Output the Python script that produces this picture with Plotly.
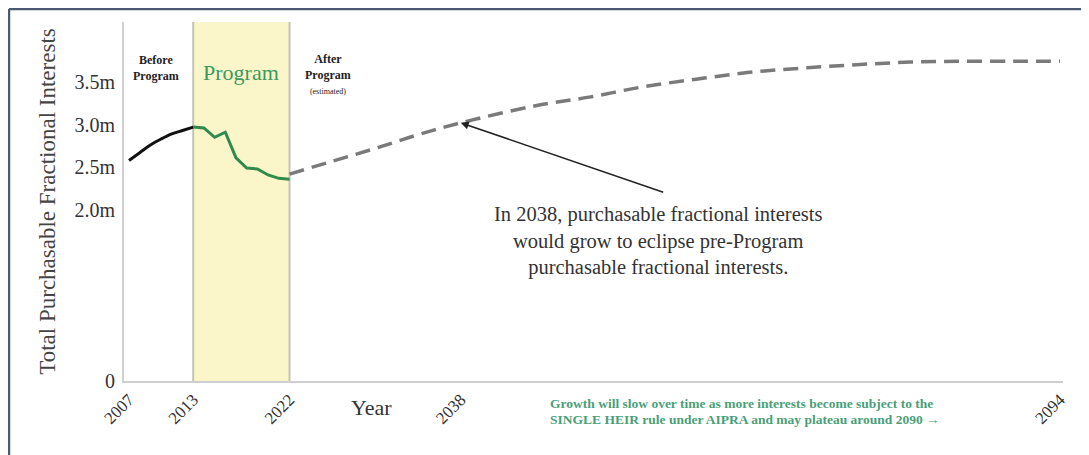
import plotly.graph_objects as go

# ---- data ----
before_years = [2007, 2008, 2009, 2010, 2011, 2012, 2013]
before_vals = [2.58, 2.67, 2.76, 2.83, 2.89, 2.93, 2.97]

program_years = [2013, 2014, 2015, 2016, 2017, 2018, 2019, 2020, 2021, 2022]
program_vals = [2.97, 2.96, 2.85, 2.91, 2.61, 2.49, 2.48, 2.41, 2.37, 2.36]

after_years = [2022, 2026, 2030, 2034, 2038, 2045, 2050, 2055, 2060, 2065, 2070, 2075, 2080, 2085, 2090, 2094]
after_vals = [2.42, 2.57, 2.72, 2.88, 3.02, 3.22, 3.32, 3.44, 3.53, 3.61, 3.66, 3.70, 3.73, 3.74, 3.74, 3.74]

x_tick_years = [2007, 2013, 2022, 2038, 2094]
y_tick_vals = [0, 2.0, 2.5, 3.0, 3.5]
y_tick_text = ["0", "2.0m", "2.5m", "3.0m", "3.5m"]

program_start, program_end = 2013, 2022
highlight_year, highlight_val = 2038, 3.02

note_lines = [
    "Growth will slow over time as more interests become subject to the",
    "SINGLE HEIR rule under AIPRA and may plateau around 2090 →",
]

SERIF = "Liberation Serif"
GREEN = "#2f8a4c"

fig = go.Figure()

fig.add_trace(go.Scatter(x=before_years, y=before_vals, mode="lines",
                         line=dict(color="#111111", width=3, shape="spline"),
                         showlegend=False, hoverinfo="skip"))
fig.add_trace(go.Scatter(x=program_years, y=program_vals, mode="lines",
                         line=dict(color=GREEN, width=3),
                         showlegend=False, hoverinfo="skip"))
fig.add_trace(go.Scatter(x=after_years, y=after_vals, mode="lines",
                         line=dict(color="#7a7a7a", width=3.5, dash="15px,8px", shape="spline"),
                         showlegend=False, hoverinfo="skip"))

shapes = [
    dict(type="rect", xref="x", yref="paper", x0=program_start, x1=program_end, y0=0, y1=1,
         fillcolor="#fbf6c9", line=dict(width=0), layer="below"),
    dict(type="line", xref="x", yref="paper", x0=program_start, x1=program_start, y0=0, y1=1,
         line=dict(color="#c4c4b8", width=2), layer="below"),
    dict(type="line", xref="x", yref="paper", x0=program_end, x1=program_end, y0=0, y1=1,
         line=dict(color="#c4c4b8", width=2), layer="below"),
    # outer frame (top and left edges)
    dict(type="line", xref="paper", yref="paper", x0=-0.1225, x1=1.03, y0=1.0362, y1=1.0362,
         line=dict(color="#4a5a72", width=2.5)),
    dict(type="line", xref="paper", yref="paper", x0=-0.1225, x1=-0.1225, y0=1.0362, y1=-0.21,
         line=dict(color="#4a5a72", width=2.5)),
]

annotations = [
    dict(x=2009.5, y=0.872, xref="x", yref="paper", showarrow=False,
         xanchor="center", yanchor="middle",
         text="<b>Before<br>Program</b>", font=dict(family=SERIF, size=12, color="#222"),
         align="center"),
    dict(x=(program_start + program_end) / 2, y=0.8593, xref="x", yref="paper", showarrow=False,
         xanchor="center", yanchor="middle",
         text="Program", font=dict(family=SERIF, size=22, color="#3a9a5c")),
    dict(x=2025.6, y=0.855, xref="x", yref="paper", showarrow=False,
         xanchor="center", yanchor="middle",
         text="<b>After<br>Program</b><br><span style='font-size:8px'>(estimated)</span>",
         font=dict(family=SERIF, size=12, color="#222"), align="center"),
    dict(x=2029.7, y=-0.0752, xref="x", yref="paper", showarrow=False,
         xanchor="center", yanchor="middle",
         text="Year", font=dict(family=SERIF, size=22, color="#333")),
    dict(x=0.5687, y=0.39, xref="paper", yref="paper", showarrow=False,
         xanchor="center", yanchor="middle",
         text="In 2038, purchasable fractional interests<br>would grow to eclipse pre-Program<br>purchasable fractional interests.",
         font=dict(family=SERIF, size=20.5, color="#333"), align="center"),
    dict(x=highlight_year, y=highlight_val, xref="x", yref="y", text="", showarrow=True,
         ax=204, ay=70, arrowhead=2, arrowsize=1, arrowwidth=1.6, arrowcolor="#222"),
    dict(x=0.4515, y=-0.0613, xref="paper", yref="paper", showarrow=False,
         xanchor="left", yanchor="middle",
         text="<b>" + note_lines[0] + "</b>",
         font=dict(family=SERIF, size=13.5, color="#4a9f78"), align="left"),
    dict(x=0.4515, y=-0.1086, xref="paper", yref="paper", showarrow=False,
         xanchor="left", yanchor="middle",
         text="<b>" + note_lines[1] + "</b>",
         font=dict(family=SERIF, size=13.5, color="#4a9f78"), align="left"),
]

# the page body adds an 8px margin; size the figure so the plot lands where the reference has it
fig.update_layout(
    width=1081, height=447,
    margin=dict(l=116, r=26, t=14, b=74, autoexpand=False),
    paper_bgcolor="white", plot_bgcolor="white",
    shapes=shapes, annotations=annotations,
    font=dict(family=SERIF, color="#333"),
    xaxis=dict(range=[2006.533, 2094.28], tickvals=x_tick_years, tickangle=-45, automargin=False,
               showgrid=False, zeroline=False, showline=True, linecolor="#cfcfcf", linewidth=2,
               ticks="", tickfont=dict(family=SERIF, size=17, color="#333")),
    yaxis=dict(range=[0, 4.199], tickvals=y_tick_vals, ticktext=y_tick_text, automargin=False,
               showgrid=False, zeroline=False, showline=True, linecolor="#cfcfcf", linewidth=2,
               ticks="", ticklabelstandoff=3, tickfont=dict(family=SERIF, size=20, color="#333"),
               title=dict(text="Total Purchasable Fractional Interests", standoff=12,
                          font=dict(family=SERIF, size=23, color="#444"))),
)

fig.write_html("out.html")
